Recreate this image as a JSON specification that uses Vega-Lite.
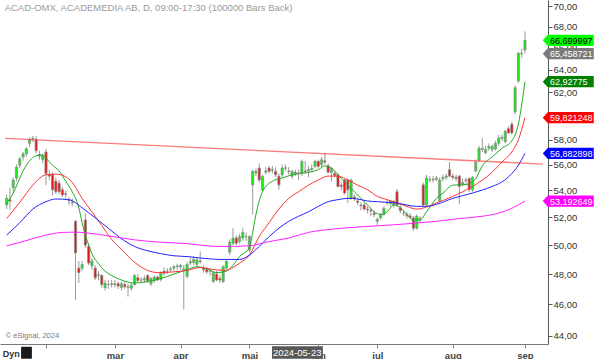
{
  "$schema": "https://vega.github.io/schema/vega-lite/v6.json",
  "width": 548,
  "height": 344,
  "autosize": {"type": "none"},
  "padding": {"left": 0, "top": 0, "right": 52, "bottom": 15},
  "background": "white",
  "config": {"view": {"stroke": null}, "font": "Liberation Sans"},
  "datasets": {
    "ohlc": [
      {"d":"2024-01-16","i":0,"o":52.9,"h":53.7,"l":52.6,"c":53.4},
      {"d":"2024-01-17","i":1,"o":53.3,"h":54.2,"l":52.55,"c":53.2},
      {"d":"2024-01-18","i":2,"o":54.2,"h":55.0,"l":53.9,"c":54.8},
      {"d":"2024-01-19","i":3,"o":54.95,"h":56.0,"l":54.7,"c":55.8},
      {"d":"2024-01-22","i":4,"o":55.95,"h":56.6,"l":55.7,"c":56.45},
      {"d":"2024-01-23","i":5,"o":56.6,"h":57.0,"l":56.3,"c":56.85},
      {"d":"2024-01-24","i":6,"o":56.85,"h":57.4,"l":56.6,"c":57.25},
      {"d":"2024-01-25","i":7,"o":57.7,"h":58.2,"l":57.4,"c":58.0},
      {"d":"2024-01-26","i":8,"o":58.0,"h":58.3,"l":57.8,"c":58.1},
      {"d":"2024-01-29","i":9,"o":58.0,"h":58.3,"l":56.9,"c":57.1},
      {"d":"2024-01-30","i":10,"o":56.8,"h":57.1,"l":56.4,"c":56.7},
      {"d":"2024-01-31","i":11,"o":56.4,"h":56.9,"l":56.1,"c":56.7},
      {"d":"2024-02-01","i":12,"o":57.0,"h":57.25,"l":54.4,"c":55.3},
      {"d":"2024-02-02","i":13,"o":55.2,"h":55.6,"l":54.8,"c":55.1},
      {"d":"2024-02-05","i":14,"o":55.2,"h":55.4,"l":53.6,"c":54.05},
      {"d":"2024-02-06","i":15,"o":54.7,"h":55.0,"l":53.7,"c":53.9},
      {"d":"2024-02-07","i":16,"o":54.55,"h":54.8,"l":53.7,"c":53.9},
      {"d":"2024-02-08","i":17,"o":54.05,"h":54.3,"l":53.5,"c":53.65},
      {"d":"2024-02-09","i":18,"o":53.75,"h":54.0,"l":53.4,"c":53.7},
      {"d":"2024-02-12","i":19,"o":53.25,"h":53.5,"l":52.9,"c":53.2},
      {"d":"2024-02-13","i":20,"o":53.1,"h":53.4,"l":52.8,"c":53.05},
      {"d":"2024-02-14","i":21,"o":51.7,"h":51.8,"l":46.3,"c":49.45},
      {"d":"2024-02-15","i":22,"o":48.4,"h":48.9,"l":47.4,"c":48.1},
      {"d":"2024-02-16","i":23,"o":48.4,"h":48.9,"l":48.2,"c":48.65},
      {"d":"2024-02-19","i":24,"o":51.8,"h":52.3,"l":49.8,"c":50.0},
      {"d":"2024-02-20","i":25,"o":49.9,"h":50.1,"l":48.6,"c":48.75},
      {"d":"2024-02-21","i":26,"o":48.55,"h":49.1,"l":48.3,"c":48.9},
      {"d":"2024-02-22","i":27,"o":48.4,"h":48.6,"l":47.6,"c":47.75},
      {"d":"2024-02-23","i":28,"o":47.9,"h":48.2,"l":47.6,"c":47.95},
      {"d":"2024-02-26","i":29,"o":47.9,"h":48.0,"l":47.1,"c":47.3},
      {"d":"2024-02-27","i":30,"o":47.1,"h":47.6,"l":46.9,"c":47.4},
      {"d":"2024-02-28","i":31,"o":47.3,"h":47.6,"l":47.0,"c":47.3},
      {"d":"2024-02-29","i":32,"o":47.3,"h":47.6,"l":47.1,"c":47.35},
      {"d":"2024-03-01","i":33,"o":47.35,"h":47.6,"l":47.1,"c":47.3},
      {"d":"2024-03-04","i":34,"o":47.35,"h":47.5,"l":47.0,"c":47.2},
      {"d":"2024-03-05","i":35,"o":47.1,"h":47.5,"l":46.9,"c":47.35},
      {"d":"2024-03-06","i":36,"o":47.3,"h":47.5,"l":47.0,"c":47.15},
      {"d":"2024-03-07","i":37,"o":47.1,"h":47.35,"l":46.5,"c":47.15},
      {"d":"2024-03-08","i":38,"o":47.05,"h":47.4,"l":46.9,"c":47.25},
      {"d":"2024-03-11","i":39,"o":47.3,"h":48.0,"l":47.2,"c":47.9},
      {"d":"2024-03-12","i":40,"o":47.75,"h":48.0,"l":47.5,"c":47.55},
      {"d":"2024-03-13","i":41,"o":47.6,"h":47.8,"l":47.4,"c":47.6},
      {"d":"2024-03-14","i":42,"o":47.6,"h":47.9,"l":47.4,"c":47.7},
      {"d":"2024-03-15","i":43,"o":47.9,"h":48.0,"l":47.4,"c":47.55},
      {"d":"2024-03-18","i":44,"o":47.35,"h":47.8,"l":47.2,"c":47.7},
      {"d":"2024-03-19","i":45,"o":47.55,"h":47.9,"l":47.4,"c":47.8},
      {"d":"2024-03-20","i":46,"o":47.8,"h":47.9,"l":47.55,"c":47.6},
      {"d":"2024-03-21","i":47,"o":47.65,"h":48.2,"l":47.5,"c":48.05},
      {"d":"2024-03-22","i":48,"o":48.2,"h":48.45,"l":47.9,"c":48.05},
      {"d":"2024-03-25","i":49,"o":48.2,"h":48.4,"l":48.0,"c":48.2},
      {"d":"2024-03-26","i":50,"o":48.3,"h":48.5,"l":48.1,"c":48.35},
      {"d":"2024-03-27","i":51,"o":48.4,"h":48.6,"l":48.2,"c":48.5},
      {"d":"2024-03-28","i":52,"o":48.5,"h":48.7,"l":48.3,"c":48.55},
      {"d":"2024-04-02","i":53,"o":48.5,"h":48.7,"l":48.3,"c":48.6},
      {"d":"2024-04-03","i":54,"o":48.3,"h":48.6,"l":45.65,"c":48.35},
      {"d":"2024-04-04","i":55,"o":47.85,"h":48.8,"l":47.7,"c":48.65},
      {"d":"2024-04-05","i":56,"o":48.75,"h":49.1,"l":48.6,"c":48.85},
      {"d":"2024-04-08","i":57,"o":48.8,"h":49.2,"l":48.6,"c":49.0},
      {"d":"2024-04-09","i":58,"o":48.65,"h":49.15,"l":48.5,"c":48.98},
      {"d":"2024-04-10","i":59,"o":48.9,"h":49.55,"l":48.7,"c":48.85},
      {"d":"2024-04-11","i":60,"o":48.4,"h":48.6,"l":48.1,"c":48.3},
      {"d":"2024-04-12","i":61,"o":48.3,"h":48.5,"l":48.0,"c":48.15},
      {"d":"2024-04-15","i":62,"o":48.2,"h":48.4,"l":47.9,"c":48.2},
      {"d":"2024-04-16","i":63,"o":47.5,"h":48.2,"l":47.4,"c":48.1},
      {"d":"2024-04-17","i":64,"o":48.0,"h":48.2,"l":47.5,"c":47.6},
      {"d":"2024-04-18","i":65,"o":47.7,"h":47.9,"l":47.4,"c":47.6},
      {"d":"2024-04-19","i":66,"o":47.5,"h":48.6,"l":47.4,"c":48.5},
      {"d":"2024-04-22","i":67,"o":48.4,"h":49.0,"l":48.3,"c":48.87},
      {"d":"2024-04-23","i":68,"o":49.5,"h":50.4,"l":49.3,"c":50.2},
      {"d":"2024-04-24","i":69,"o":50.13,"h":51.2,"l":50.0,"c":50.5},
      {"d":"2024-04-25","i":70,"o":50.5,"h":50.7,"l":50.0,"c":50.13},
      {"d":"2024-04-26","i":71,"o":50.25,"h":50.8,"l":50.1,"c":50.6},
      {"d":"2024-04-29","i":72,"o":50.5,"h":51.2,"l":50.3,"c":50.9},
      {"d":"2024-04-30","i":73,"o":50.6,"h":50.9,"l":50.3,"c":50.6},
      {"d":"2024-05-02","i":74,"o":49.67,"h":50.7,"l":49.5,"c":50.6},
      {"d":"2024-05-03","i":75,"o":54.42,"h":55.6,"l":52.2,"c":55.47},
      {"d":"2024-05-06","i":76,"o":55.34,"h":55.7,"l":55.1,"c":55.47},
      {"d":"2024-05-07","i":77,"o":55.73,"h":56.1,"l":54.6,"c":54.8},
      {"d":"2024-05-08","i":78,"o":54.05,"h":55.2,"l":53.9,"c":55.08},
      {"d":"2024-05-10","i":79,"o":55.4,"h":55.8,"l":55.2,"c":55.5},
      {"d":"2024-05-13","i":80,"o":55.73,"h":55.9,"l":55.3,"c":55.47},
      {"d":"2024-05-14","i":81,"o":55.55,"h":55.9,"l":55.3,"c":55.6},
      {"d":"2024-05-15","i":82,"o":55.47,"h":55.8,"l":55.0,"c":55.2},
      {"d":"2024-05-16","i":83,"o":55.08,"h":55.3,"l":54.05,"c":54.42},
      {"d":"2024-05-17","i":84,"o":55.2,"h":56.0,"l":55.0,"c":55.73},
      {"d":"2024-05-20","i":85,"o":55.7,"h":56.0,"l":55.5,"c":55.75},
      {"d":"2024-05-21","i":86,"o":55.5,"h":55.8,"l":55.2,"c":55.45},
      {"d":"2024-05-22","i":87,"o":55.08,"h":55.6,"l":54.9,"c":55.47},
      {"d":"2024-05-23","i":88,"o":55.4,"h":55.6,"l":55.1,"c":55.3},
      {"d":"2024-05-24","i":89,"o":55.3,"h":55.6,"l":54.8,"c":55.35},
      {"d":"2024-05-27","i":90,"o":55.34,"h":56.4,"l":55.1,"c":56.25},
      {"d":"2024-05-28","i":91,"o":55.5,"h":56.3,"l":55.3,"c":55.45},
      {"d":"2024-05-29","i":92,"o":55.5,"h":55.9,"l":55.0,"c":55.6},
      {"d":"2024-05-30","i":93,"o":55.6,"h":56.0,"l":55.4,"c":55.7},
      {"d":"2024-05-31","i":94,"o":55.86,"h":56.4,"l":55.7,"c":56.25},
      {"d":"2024-06-03","i":95,"o":56.25,"h":56.4,"l":55.7,"c":55.86},
      {"d":"2024-06-04","i":96,"o":55.99,"h":56.6,"l":55.8,"c":56.38},
      {"d":"2024-06-05","i":97,"o":56.3,"h":56.95,"l":56.0,"c":56.2},
      {"d":"2024-06-07","i":98,"o":55.9,"h":56.1,"l":55.3,"c":55.4},
      {"d":"2024-06-10","i":99,"o":55.4,"h":55.8,"l":54.7,"c":55.7},
      {"d":"2024-06-11","i":100,"o":55.3,"h":55.5,"l":55.0,"c":55.15},
      {"d":"2024-06-12","i":101,"o":55.2,"h":55.3,"l":54.2,"c":54.3},
      {"d":"2024-06-13","i":102,"o":54.4,"h":54.6,"l":54.0,"c":54.3},
      {"d":"2024-06-14","i":103,"o":54.8,"h":54.9,"l":53.7,"c":53.8},
      {"d":"2024-06-17","i":104,"o":54.8,"h":54.9,"l":53.05,"c":54.05},
      {"d":"2024-06-18","i":105,"o":53.4,"h":54.9,"l":53.3,"c":54.8},
      {"d":"2024-06-19","i":106,"o":53.5,"h":53.7,"l":53.2,"c":53.4},
      {"d":"2024-06-20","i":107,"o":53.2,"h":53.4,"l":52.9,"c":53.1},
      {"d":"2024-06-24","i":108,"o":52.9,"h":53.1,"l":52.5,"c":52.85},
      {"d":"2024-06-25","i":109,"o":52.9,"h":53.1,"l":52.5,"c":52.6},
      {"d":"2024-06-26","i":110,"o":52.6,"h":52.8,"l":52.3,"c":52.55},
      {"d":"2024-06-27","i":111,"o":52.5,"h":52.7,"l":52.07,"c":52.45},
      {"d":"2024-06-28","i":112,"o":52.3,"h":52.5,"l":52.0,"c":52.2},
      {"d":"2024-07-01","i":113,"o":51.7,"h":52.0,"l":51.4,"c":51.85},
      {"d":"2024-07-02","i":114,"o":51.95,"h":52.3,"l":51.8,"c":52.15},
      {"d":"2024-07-03","i":115,"o":52.2,"h":52.8,"l":52.1,"c":52.66},
      {"d":"2024-07-04","i":116,"o":53.05,"h":53.3,"l":52.9,"c":53.1},
      {"d":"2024-07-05","i":117,"o":53.0,"h":53.3,"l":52.8,"c":53.2},
      {"d":"2024-07-08","i":118,"o":52.9,"h":53.3,"l":52.7,"c":53.16},
      {"d":"2024-07-09","i":119,"o":53.9,"h":54.1,"l":52.8,"c":52.9},
      {"d":"2024-07-10","i":120,"o":52.7,"h":52.9,"l":52.3,"c":52.5},
      {"d":"2024-07-11","i":121,"o":52.3,"h":52.5,"l":52.1,"c":52.3},
      {"d":"2024-07-12","i":122,"o":52.2,"h":52.4,"l":51.9,"c":52.1},
      {"d":"2024-07-15","i":123,"o":52.1,"h":52.3,"l":51.9,"c":52.0},
      {"d":"2024-07-16","i":124,"o":51.95,"h":52.1,"l":51.0,"c":51.2},
      {"d":"2024-07-17","i":125,"o":51.2,"h":52.2,"l":51.1,"c":52.07},
      {"d":"2024-07-18","i":126,"o":51.8,"h":52.1,"l":51.6,"c":51.9},
      {"d":"2024-07-19","i":127,"o":54.42,"h":54.6,"l":52.8,"c":52.9},
      {"d":"2024-07-22","i":128,"o":52.9,"h":55.2,"l":52.8,"c":54.95},
      {"d":"2024-07-23","i":129,"o":54.8,"h":55.1,"l":54.6,"c":54.85},
      {"d":"2024-07-24","i":130,"o":54.85,"h":55.1,"l":54.6,"c":54.8},
      {"d":"2024-07-25","i":131,"o":54.85,"h":55.1,"l":54.7,"c":54.95},
      {"d":"2024-07-26","i":132,"o":53.2,"h":55.0,"l":53.1,"c":54.8},
      {"d":"2024-07-29","i":133,"o":54.9,"h":55.2,"l":54.7,"c":55.0},
      {"d":"2024-07-30","i":134,"o":55.0,"h":55.3,"l":54.8,"c":55.1},
      {"d":"2024-07-31","i":135,"o":55.6,"h":56.2,"l":55.0,"c":55.1},
      {"d":"2024-08-01","i":136,"o":55.1,"h":55.3,"l":54.8,"c":55.0},
      {"d":"2024-08-02","i":137,"o":55.0,"h":55.2,"l":54.7,"c":54.9},
      {"d":"2024-08-05","i":138,"o":55.1,"h":55.2,"l":52.95,"c":54.3},
      {"d":"2024-08-06","i":139,"o":54.5,"h":54.9,"l":54.3,"c":54.6},
      {"d":"2024-08-07","i":140,"o":54.8,"h":55.0,"l":54.5,"c":54.75},
      {"d":"2024-08-08","i":141,"o":54.9,"h":55.0,"l":53.9,"c":54.05},
      {"d":"2024-08-09","i":142,"o":54.05,"h":55.1,"l":53.9,"c":55.0},
      {"d":"2024-08-12","i":143,"o":55.5,"h":56.4,"l":55.4,"c":56.2},
      {"d":"2024-08-13","i":144,"o":56.35,"h":57.5,"l":56.2,"c":57.3},
      {"d":"2024-08-14","i":145,"o":57.2,"h":58.13,"l":57.0,"c":57.3},
      {"d":"2024-08-15","i":146,"o":56.95,"h":57.5,"l":56.8,"c":57.2},
      {"d":"2024-08-16","i":147,"o":57.3,"h":57.7,"l":57.1,"c":57.45},
      {"d":"2024-08-19","i":148,"o":57.2,"h":57.6,"l":57.0,"c":57.45},
      {"d":"2024-08-20","i":149,"o":57.25,"h":57.9,"l":57.1,"c":57.7},
      {"d":"2024-08-21","i":150,"o":57.7,"h":58.4,"l":57.5,"c":58.13},
      {"d":"2024-08-22","i":151,"o":58.1,"h":58.4,"l":57.9,"c":58.2},
      {"d":"2024-08-23","i":152,"o":57.85,"h":58.8,"l":57.7,"c":58.7},
      {"d":"2024-08-26","i":153,"o":58.9,"h":59.1,"l":58.5,"c":58.55},
      {"d":"2024-08-27","i":154,"o":59.27,"h":59.5,"l":58.4,"c":58.55},
      {"d":"2024-08-28","i":155,"o":60.3,"h":62.6,"l":60.1,"c":62.4},
      {"d":"2024-08-29","i":156,"o":63.0,"h":65.6,"l":62.8,"c":65.5},
      {"d":"2024-08-30","i":157,"o":65.5,"h":65.9,"l":65.1,"c":65.458721},
      {"d":"2024-09-02","i":158,"o":65.8,"h":67.55,"l":65.5,"c":66.699997}
    ],
    "ma": [
      {"s":"g","i":0,"v":53.0},{"s":"g","i":2,"v":53.8},{"s":"g","i":5,"v":55.5},{"s":"g","i":7,"v":56.3},{"s":"g","i":9,"v":56.7},{"s":"g","i":11,"v":56.75},{"s":"g","i":12,"v":56.5},{"s":"g","i":14,"v":55.95},{"s":"g","i":16,"v":55.5},{"s":"g","i":18,"v":54.7},{"s":"g","i":20,"v":53.9},{"s":"g","i":22,"v":52.7},{"s":"g","i":23,"v":51.6},{"s":"g","i":25,"v":50.0},{"s":"g","i":26,"v":49.4},{"s":"g","i":28,"v":48.7},{"s":"g","i":30,"v":48.2},{"s":"g","i":32,"v":47.9},{"s":"g","i":35,"v":47.6},{"s":"g","i":39,"v":47.4},{"s":"g","i":43,"v":47.5},{"s":"g","i":47,"v":47.7},{"s":"g","i":51,"v":48.0},{"s":"g","i":55,"v":48.3},{"s":"g","i":58,"v":48.5},{"s":"g","i":61,"v":48.35},{"s":"g","i":64,"v":48.1},{"s":"g","i":67,"v":48.2},{"s":"g","i":69,"v":48.6},{"s":"g","i":71,"v":49.2},{"s":"g","i":74,"v":49.8},{"s":"g","i":75,"v":50.9},{"s":"g","i":76,"v":52.2},{"s":"g","i":78,"v":53.9},{"s":"g","i":81,"v":54.7},{"s":"g","i":84,"v":54.95},{"s":"g","i":87,"v":55.2},{"s":"g","i":91,"v":55.35},{"s":"g","i":95,"v":55.6},{"s":"g","i":97,"v":55.9},{"s":"g","i":100,"v":55.5},{"s":"g","i":101,"v":55.2},{"s":"g","i":104,"v":54.4},{"s":"g","i":107,"v":53.65},{"s":"g","i":110,"v":52.9},{"s":"g","i":112,"v":52.4},{"s":"g","i":114,"v":52.2},{"s":"g","i":116,"v":52.4},{"s":"g","i":118,"v":52.9},{"s":"g","i":120,"v":52.7},{"s":"g","i":122,"v":52.2},{"s":"g","i":124,"v":51.8},{"s":"g","i":126,"v":51.8},{"s":"g","i":128,"v":52.4},{"s":"g","i":131,"v":53.4},{"s":"g","i":133,"v":53.8},{"s":"g","i":136,"v":54.4},{"s":"g","i":140,"v":54.45},{"s":"g","i":143,"v":54.9},{"s":"g","i":145,"v":55.9},{"s":"g","i":148,"v":56.6},{"s":"g","i":151,"v":57.3},{"s":"g","i":154,"v":57.9},{"s":"g","i":156,"v":59.3},{"s":"g","i":157,"v":60.9},{"s":"g","i":158,"v":62.92775},
      {"s":"r","i":0,"v":51.9},{"s":"r","i":4,"v":53.1},{"s":"r","i":8,"v":54.4},{"s":"r","i":12,"v":55.2},{"s":"r","i":15,"v":55.25},{"s":"r","i":18,"v":55.05},{"s":"r","i":20,"v":54.6},{"s":"r","i":23,"v":53.4},{"s":"r","i":26,"v":52.4},{"s":"r","i":29,"v":51.4},{"s":"r","i":32,"v":50.4},{"s":"r","i":35,"v":49.7},{"s":"r","i":38,"v":49.0},{"s":"r","i":42,"v":48.35},{"s":"r","i":46,"v":48.1},{"s":"r","i":51,"v":48.15},{"s":"r","i":55,"v":48.25},{"s":"r","i":59,"v":48.45},{"s":"r","i":63,"v":48.3},{"s":"r","i":67,"v":48.25},{"s":"r","i":69,"v":48.45},{"s":"r","i":71,"v":48.75},{"s":"r","i":74,"v":49.3},{"s":"r","i":77,"v":50.6},{"s":"r","i":80,"v":51.6},{"s":"r","i":83,"v":52.6},{"s":"r","i":86,"v":53.4},{"s":"r","i":89,"v":53.9},{"s":"r","i":92,"v":54.4},{"s":"r","i":95,"v":54.8},{"s":"r","i":98,"v":55.1},{"s":"r","i":101,"v":55.1},{"s":"r","i":104,"v":54.8},{"s":"r","i":107,"v":54.4},{"s":"r","i":110,"v":54.05},{"s":"r","i":113,"v":53.55},{"s":"r","i":116,"v":53.3},{"s":"r","i":119,"v":53.05},{"s":"r","i":122,"v":52.8},{"s":"r","i":125,"v":52.6},{"s":"r","i":128,"v":52.75},{"s":"r","i":131,"v":53.05},{"s":"r","i":136,"v":53.55},{"s":"r","i":142,"v":54.3},{"s":"r","i":148,"v":55.4},{"s":"r","i":151,"v":56.2},{"s":"r","i":154,"v":57.0},{"s":"r","i":156,"v":58.0},{"s":"r","i":158,"v":59.821248},
      {"s":"b","i":0,"v":50.7},{"s":"b","i":4,"v":51.6},{"s":"b","i":8,"v":52.6},{"s":"b","i":12,"v":53.15},{"s":"b","i":15,"v":53.35},{"s":"b","i":19,"v":53.3},{"s":"b","i":23,"v":52.7},{"s":"b","i":27,"v":51.95},{"s":"b","i":31,"v":51.2},{"s":"b","i":35,"v":50.45},{"s":"b","i":39,"v":49.9},{"s":"b","i":43,"v":49.6},{"s":"b","i":47,"v":49.4},{"s":"b","i":51,"v":49.25},{"s":"b","i":55,"v":49.2},{"s":"b","i":59,"v":49.1},{"s":"b","i":65,"v":49.0},{"s":"b","i":71,"v":49.0},{"s":"b","i":74,"v":49.3},{"s":"b","i":77,"v":49.9},{"s":"b","i":80,"v":50.6},{"s":"b","i":83,"v":51.2},{"s":"b","i":86,"v":51.7},{"s":"b","i":89,"v":52.07},{"s":"b","i":92,"v":52.4},{"s":"b","i":95,"v":52.8},{"s":"b","i":98,"v":53.15},{"s":"b","i":101,"v":53.3},{"s":"b","i":104,"v":53.4},{"s":"b","i":107,"v":53.35},{"s":"b","i":110,"v":53.2},{"s":"b","i":113,"v":53.15},{"s":"b","i":116,"v":53.1},{"s":"b","i":119,"v":53.05},{"s":"b","i":122,"v":52.9},{"s":"b","i":125,"v":52.8},{"s":"b","i":128,"v":52.8},{"s":"b","i":131,"v":52.95},{"s":"b","i":136,"v":53.4},{"s":"b","i":142,"v":53.8},{"s":"b","i":148,"v":54.3},{"s":"b","i":151,"v":54.65},{"s":"b","i":154,"v":55.3},{"s":"b","i":156,"v":55.95},{"s":"b","i":158,"v":56.882898},
      {"s":"m","i":0,"v":49.95},{"s":"m","i":5,"v":50.25},{"s":"m","i":11,"v":50.65},{"s":"m","i":17,"v":50.9},{"s":"m","i":21,"v":50.92},{"s":"m","i":25,"v":50.85},{"s":"m","i":31,"v":50.65},{"s":"m","i":39,"v":50.37},{"s":"m","i":47,"v":50.2},{"s":"m","i":55,"v":50.1},{"s":"m","i":59,"v":50.0},{"s":"m","i":65,"v":49.9},{"s":"m","i":74,"v":49.95},{"s":"m","i":80,"v":50.25},{"s":"m","i":86,"v":50.5},{"s":"m","i":92,"v":50.9},{"s":"m","i":100,"v":51.15},{"s":"m","i":108,"v":51.3},{"s":"m","i":118,"v":51.45},{"s":"m","i":131,"v":51.7},{"s":"m","i":138,"v":51.9},{"s":"m","i":145,"v":52.07},{"s":"m","i":150,"v":52.3},{"s":"m","i":154,"v":52.66},{"s":"m","i":158,"v":53.192649}
    ],
    "trend": [{"i": -0.5, "v": 58.1}, {"i": 163.5, "v": 56.04}],
    "tags": [
      {"k":"last","v":66.699997,"t":"66,699997"},
      {"k":"prev","v":65.458721,"t":"65,458721"},
      {"k":"g","v":62.92775,"t":"62,92775"},
      {"k":"r","v":59.821248,"t":"59,821248"},
      {"k":"b","v":56.882898,"t":"56,882898"},
      {"k":"m","v":53.192649,"t":"53,192649"}
    ]
  },
  "layer": [
    {
      "data": {"name": "ohlc"},
      "mark": {"type": "rule", "color": "#9a9a9a", "strokeWidth": 1},
      "encoding": {
        "x": {"field": "i", "type": "quantitative",
              "scale": {"domain": [-0.5, 163.5], "nice": false, "zero": false},
              "axis": {"orient": "bottom", "title": null, "grid": false,
                       "values": [12, 33, 53, 74, 95, 113, 136, 158],
                       "labelExpr": "datum.value==33?'mar':datum.value==53?'apr':datum.value==74?'maj':datum.value==95?'jun':datum.value==113?'jul':datum.value==136?'aug':datum.value==158?'sep':''",
                       "domainColor": "#777", "tickColor": "#888", "tickSize": 4,
                       "labelFontSize": 9.5, "labelFontWeight": "bold", "labelColor": "#444",
                       "labelPadding": 2, "labelFlush": false, "labelOverlap": false}},
        "y": {"field": "l", "type": "quantitative",
              "scale": {"type": "log", "domain": [43.5, 70.6], "nice": false, "zero": false},
              "axis": {"orient": "right", "title": null, "grid": false,
                       "values": [44, 46, 48, 50, 52, 54, 56, 58, 62, 64, 66, 68, 70],
                       "labelExpr": "replace(format(datum.value, '.2f'), '.', ',')",
                       "domainColor": "#555", "tickColor": "#555", "tickSize": 4,
                       "labelFontSize": 9.5, "labelColor": "#333", "labelPadding": 1}},
        "y2": {"field": "h"}
      }
    },
    {
      "data": {"name": "ohlc"},
      "mark": {"type": "bar", "width": 2.2, "stroke": "#8a8a8a", "strokeWidth": 0.7},
      "encoding": {
        "x": {"field": "i", "type": "quantitative"},
        "y": {"field": "o", "type": "quantitative"},
        "y2": {"field": "c"},
        "fill": {"condition": {"test": "datum.c >= datum.o", "value": "#11ee11"}, "value": "#ee1111"}
      }
    },
    {
      "data": {"name": "trend"},
      "mark": {"type": "line", "color": "#ff4040", "strokeWidth": 1.3, "opacity": 0.7},
      "encoding": {
        "x": {"field": "i", "type": "quantitative"},
        "y": {"field": "v", "type": "quantitative"}
      }
    },
    {
      "data": {"name": "ma"},
      "mark": {"type": "line", "strokeWidth": 1, "interpolate": "monotone"},
      "encoding": {
        "x": {"field": "i", "type": "quantitative"},
        "y": {"field": "v", "type": "quantitative"},
        "stroke": {"field": "s", "type": "nominal", "legend": null,
                   "scale": {"domain": ["m", "b", "r", "g"], "range": ["#ff22ff", "#2222ff", "#ff3333", "#22aa22"]}},
        "detail": {"field": "s"}
      }
    },
    {
      "data": {"name": "tags"},
      "mark": {"type": "point", "filled": true, "opacity": 1, "size": 2601,
               "shape": "M-1,0L-0.8,-0.22L1,-0.22L1,0.22L-0.8,0.22Z"},
      "encoding": {
        "x": {"datum": 171.2, "type": "quantitative"},
        "y": {"field": "v", "type": "quantitative"},
        "fill": {"field": "k", "type": "nominal", "legend": null,
                 "scale": {"domain": ["last", "prev", "g", "r", "b", "m"],
                           "range": ["#00ff00", "#7a7a7a", "#008000", "#ff0000", "#0000ff", "#ff00ff"]}}
      }
    },
    {
      "data": {"name": "tags"},
      "mark": {"type": "text", "align": "left", "baseline": "middle", "fontSize": 9, "dy": 0.5},
      "encoding": {
        "x": {"datum": 165.6, "type": "quantitative"},
        "y": {"field": "v", "type": "quantitative"},
        "text": {"field": "t"},
        "fill": {"condition": {"test": "datum.k === 'last'", "value": "#000000"}, "value": "#ffffff"}
      }
    },
    {
      "data": {"values": [{"t": "ACAD-OMX, ACADEMEDIA AB, D, 09:00-17:30 (100000 Bars Back)"}]},
      "mark": {"type": "text", "align": "left", "baseline": "middle", "fontSize": 9.5, "color": "#9a9a9a"},
      "encoding": {
        "x": {"datum": -0.6, "type": "quantitative"},
        "y": {"datum": 69.8, "type": "quantitative"},
        "text": {"field": "t"}
      }
    },
    {
      "data": {"values": [{"t": "© eSignal, 2024"}]},
      "mark": {"type": "text", "align": "left", "baseline": "middle", "fontSize": 7.5, "color": "#777"},
      "encoding": {
        "x": {"datum": -0.3, "type": "quantitative"},
        "y": {"datum": 44.0, "type": "quantitative"},
        "text": {"field": "t"}
      }
    },
    {
      "data": {"values": [{"t": "Dyn"}]},
      "mark": {"type": "text", "align": "left", "baseline": "middle", "fontSize": 9, "fontWeight": "bold", "color": "#333"},
      "encoding": {
        "x": {"datum": -1.2, "type": "quantitative"},
        "y": {"datum": 42.92, "type": "quantitative"},
        "text": {"field": "t"}
      }
    },
    {
      "data": {"values": [{}]},
      "mark": {"type": "rect", "color": "#1a1a1a", "cornerRadius": 1},
      "encoding": {
        "x": {"datum": 4.4, "type": "quantitative"},
        "x2": {"datum": 7.7},
        "y": {"datum": 43.33, "type": "quantitative"},
        "y2": {"datum": 42.61}
      }
    },
    {
      "data": {"values": [{}]},
      "mark": {"type": "rect", "color": "#585858"},
      "encoding": {
        "x": {"datum": 80.9, "type": "quantitative"},
        "x2": {"datum": 96.4},
        "y": {"datum": 43.36, "type": "quantitative"},
        "y2": {"datum": 42.61}
      }
    },
    {
      "data": {"values": [{"t": "2024-05-23"}]},
      "mark": {"type": "text", "align": "center", "baseline": "middle", "fontSize": 9.5, "color": "#ffffff"},
      "encoding": {
        "x": {"datum": 88.6, "type": "quantitative"},
        "y": {"datum": 42.95, "type": "quantitative"},
        "text": {"field": "t"}
      }
    }
  ]
}
